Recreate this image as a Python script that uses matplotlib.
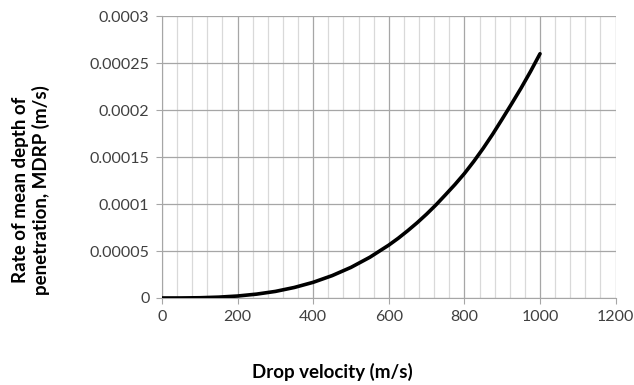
import matplotlib.pyplot as plt
from matplotlib.ticker import MultipleLocator

# drop velocity (m/s) and MDRP (m/s)
velocity = [0, 50, 100, 150, 200, 250, 300, 350, 400, 450, 500, 550,
            600, 625, 650, 675, 700, 725, 750, 775, 800, 825, 850, 875,
            900, 925, 950, 975, 1000]
mdrp = [0.0, 0.00000003, 0.00000026, 0.0000009, 0.0000021, 0.0000041,
        0.000007, 0.0000112, 0.0000167, 0.0000238, 0.0000326, 0.0000434,
        0.0000563, 0.0000636, 0.0000716, 0.0000801, 0.0000893, 0.0000992,
        0.0001099, 0.0001208, 0.0001325, 0.0001455, 0.0001595, 0.0001745,
        0.0001905, 0.0002068, 0.0002235, 0.0002412, 0.00026]

y_ticks = [0, 0.00005, 0.0001, 0.00015, 0.0002, 0.00025, 0.0003]
y_tick_labels = ['0', '0.00005', '0.0001', '0.00015', '0.0002', '0.00025', '0.0003']

plt.rcParams['font.family'] = ['Lato', 'DejaVu Sans']

fig = plt.figure(figsize=(6.34, 3.85), dpi=100)
ax = fig.add_axes([0.2555, 0.226, 0.7155, 0.732])

ax.plot(velocity, mdrp, color='black', linewidth=2.6, zorder=3,
        solid_joinstyle='round', solid_capstyle='round')

ax.set_xlim(0, 1200)
ax.set_ylim(0, 0.0003)
ax.xaxis.set_major_locator(MultipleLocator(200))
ax.xaxis.set_minor_locator(MultipleLocator(40))
ax.set_yticks(y_ticks)
ax.set_yticklabels(y_tick_labels)

ax.grid(which='major', color='#a6a6a6', linewidth=0.9)
ax.grid(which='minor', axis='x', color='#d9d9d9', linewidth=0.9)
ax.set_axisbelow(True)

for side in ['top', 'right']:
    ax.spines[side].set_visible(False)
for side in ['left', 'bottom']:
    ax.spines[side].set_color('#a6a6a6')

ax.tick_params(which='major', length=4, color='#a6a6a6', labelsize=11.5,
               labelcolor='#404040', pad=5)
ax.tick_params(which='minor', length=0)

fig.text(31 / 634, 1 - 190 / 385, 'Rate of mean depth of\npenetration, MDRP (m/s)',
         rotation=90, ha='center', va='center', multialignment='center',
         fontsize=13.5, fontweight='bold', linespacing=1.15)
fig.text(332 / 634, 1 - 372 / 385, 'Drop velocity (m/s)',
         ha='center', va='center', fontsize=13.5, fontweight='bold')

fig.savefig('out.png', dpi=100)
